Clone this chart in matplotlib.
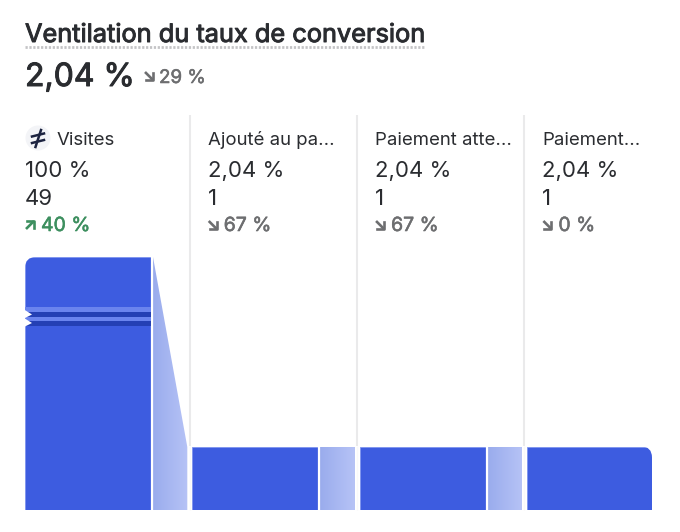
import matplotlib
matplotlib.use('Agg')
import matplotlib.pyplot as plt
import numpy as np
from matplotlib.patches import Circle, FancyBboxPatch, Polygon
import matplotlib.patheffects as pe

plt.rcParams['font.family'] = ['Inter', 'DejaVu Sans']

# the card uses a broken scale, so the drawn heights are not the percentages
stages = ['Visites', 'Ajouté au pa...', 'Paiement atte...', 'Paiement...']
rates = ['100 %', '2,04 %', '2,04 %', '2,04 %']
counts = ['49', '1', '1', '1']
changes = ['40 %', '67 %', '67 %', '0 %']
change_up = [True, False, False, False]
bar_heights = [100, 24.9, 24.9, 24.9]

BLUE = '#3d5ce0'
INK = '#2a2c30'
GREY = '#6d6e70'
GREEN = '#3d8f5f'
W, H = 680, 532
PITCH = 167.33
BAR_W = 126 / PITCH


def arrow(ax, x, y, up, color):
    # small corner arrow next to the change values
    s = 4.0
    if up:
        ax.plot([x - s, x + s], [y + s, y - s], color=color, lw=1.9, solid_capstyle='butt')
        ax.plot([x - s + 1, x + s, x + s], [y - s, y - s, y + s - 1], color=color, lw=1.9)
    else:
        ax.plot([x - s, x + s], [y - s, y + s], color=color, lw=1.9, solid_capstyle='butt')
        ax.plot([x - s + 1, x + s, x + s], [y + s, y + s, y - s + 1], color=color, lw=1.9)


fig = plt.figure(figsize=(W / 100, H / 100), dpi=100)

ax = fig.add_axes([25 / W, 1 - 510 / H, (652 - 25) / W, (510 - 257) / H])
ax.axis('off')

top = fig.add_axes([0, 0, 1, 1], zorder=5)
top.set_xlim(0, W)
top.set_ylim(H, 0)
top.axis('off')
top.patch.set_alpha(0)

bars = ax.bar(range(len(stages)), bar_heights, width=BAR_W, align='edge', color=BLUE,
              edgecolor='#7d93ee', linewidth=0.6)

# only the outer top corners of the funnel are rounded
clip_l = FancyBboxPatch((25, 257), 170, 290, boxstyle='round,pad=0,rounding_size=11',
                        transform=top.transData)
clip_r = FancyBboxPatch((480, 446.5), 172, 100, boxstyle='round,pad=0,rounding_size=11',
                        transform=top.transData)
bars[0].set_clip_path(clip_l)
bars[-1].set_clip_path(clip_r)

# gradient connectors between the bars
gradient = np.linspace(0, 1, 64).reshape(1, -1)
cmap = matplotlib.colors.LinearSegmentedColormap.from_list('conn', ['#9aaced', '#b6c3f6'])
for i in range(len(stages) - 1):
    x0 = i + BAR_W + 0.012
    x1 = i + 1 - 0.03
    im = ax.imshow(gradient, extent=[x0, x1, 0, bar_heights[i]], cmap=cmap, aspect='auto', zorder=2)
    poly = Polygon([[x0, 0], [x0, bar_heights[i]], [x1, bar_heights[i + 1]], [x1, 0]],
                   transform=ax.transData, fill=False, edgecolor='none')
    ax.add_patch(poly)
    im.set_clip_path(poly)
    ax.axvline(i + BAR_W + 0.006, color='white', lw=1.6, zorder=3)
ax.set_xlim(0, (652 - 25) / PITCH)
ax.set_ylim(0, 100)

# axis break marks on the first bar
bx0, bx1 = 25, 151
for y0, y1, c in [(307, 312, '#6a84ee'), (312, 316.5, '#2440b4'),
                  (316.5, 321, '#6a84ee'), (321, 325.5, '#2440b4')]:
    top.fill_between([bx0, bx1], y0, y1, color=c, lw=0)
for yc in (316.5, 325.0):
    top.add_patch(Polygon([[24, yc - 7], [32, yc - 2], [24, yc + 2]], color='white', lw=0))

# column separators
for x in (190, 357, 524):
    top.plot([x, x], [115, 446], color='#eaeaeb', lw=1.5, solid_capstyle='butt')
    top.plot([x, x], [446, 510], color='#f9f9f9', lw=1.0, solid_capstyle='butt')

# header
t = top.text(25, 42, 'Ventilation du taux de conversion', fontsize=18.25, color=INK, va='baseline')
t.set_path_effects([pe.withStroke(linewidth=0.7, foreground=INK)])
top.plot([25, 425], [46.5, 46.5], color='#c4c4c6', lw=2, ls=(0, (0.8, 0.6)))
t = top.text(25, 86, '2,04 %', fontsize=23, color=INK, va='baseline')
t.set_path_effects([pe.withStroke(linewidth=0.7, foreground=INK)])
arrow(top, 149, 76, False, GREY)
t = top.text(159, 83, '29 %', fontsize=13.5, color=GREY, va='baseline')
t.set_path_effects([pe.withStroke(linewidth=0.4, foreground=GREY)])

# icon of the first stage
top.add_patch(Circle((38, 138), 12.5, color='#f3f4f7', lw=0))
top.plot([32, 44], [136.5, 133.5], color='#1c2340', lw=1.8)
top.plot([32, 44], [143, 140], color='#1c2340', lw=1.8)
top.plot([41, 35.5], [130, 147], color='#1c2340', lw=1.8)

# stage columns
for i, name in enumerate(stages):
    x = 25 if i == 0 else 40.4 + PITCH * i
    label_x = x + 32 if i == 0 else x
    top.text(label_x, 145, name, fontsize=13.4, color=INK, va='baseline')
    top.text(x, 177, rates[i], fontsize=16, color=INK, va='baseline')
    top.text(x, 205, counts[i], fontsize=16, color=INK, va='baseline')
    c = GREEN if change_up[i] else GREY
    arrow(top, x + 5, 225, change_up[i], c)
    t = top.text(x + 16, 231, changes[i], fontsize=14, color=c, va='baseline')
    t.set_path_effects([pe.withStroke(linewidth=0.4, foreground=c)])

fig.savefig('out.png', dpi=100, facecolor='white')
